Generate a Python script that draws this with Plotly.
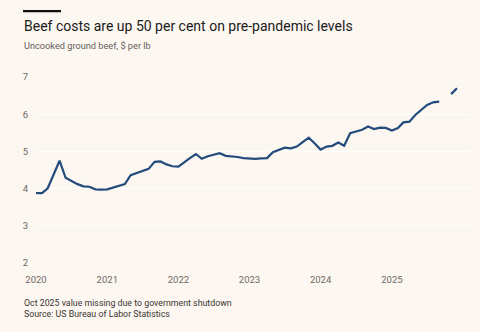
import plotly.graph_objects as go
import pandas as pd

# ---- data ----
months = pd.date_range("2020-01-01", "2025-12-01", freq="MS")
price_2020 = [3.88, 3.88, 4.01, 4.40, 4.75, 4.29, 4.21, 4.12, 4.06, 4.05, 3.98, 3.97]
price_2021 = [3.98, 4.03, 4.08, 4.12, 4.36, 4.42, 4.48, 4.53, 4.72, 4.73, 4.65, 4.60]
price_2022 = [4.59, 4.72, 4.82, 4.93, 4.80, 4.87, 4.90, 4.95, 4.88, 4.87, 4.85, 4.82]
price_2023 = [4.80, 4.80, 4.81, 4.82, 4.98, 5.05, 5.10, 5.08, 5.13, 5.25, 5.37, 5.22]
price_2024 = [5.05, 5.13, 5.15, 5.24, 5.15, 5.49, 5.54, 5.58, 5.67, 5.60, 5.64, 5.63]
price_2025 = [5.56, 5.63, 5.78, 5.80, 5.98, 6.12, 6.25, 6.32, 6.34, None, 6.54, 6.70]
prices = price_2020 + price_2021 + price_2022 + price_2023 + price_2024 + price_2025

y_ticks = [2, 3, 4, 5, 6, 7]
x_ticks = ["2020-01-01", "2021-01-01", "2022-01-01", "2023-01-01", "2024-01-01", "2025-01-01"]
x_tick_text = ["2020", "2021", "2022", "2023", "2024", "2025"]

title = "Beef costs are up 50 per cent on pre-pandemic levels"
subtitle = "Uncooked ground beef, $ per lb"
note = "Oct 2025 value missing due to government shutdown"
source = "Source: US Bureau of Labor Statistics"

# ---- layout geometry (pixels) ----
W, H = 480, 332
L, R, T, B = 36, 10, 77, 69
PW, PH = W - L - R, H - T - B

def px_x(px):
    return (px - L) / PW

def px_y(py):
    return (H - B - py) / PH

BG = "#fdf7f1"
FONT = "Roboto"

fig = go.Figure()
fig.add_trace(go.Scatter(
    x=months, y=prices, mode="lines",
    line=dict(color="#234b7c", width=2.2),
    connectgaps=False, hoverinfo="skip", showlegend=False,
))

fig.update_layout(
    width=W, height=H,
    margin=dict(l=L, r=R, t=T, b=B, pad=0),
    paper_bgcolor=BG, plot_bgcolor=BG,
    font=dict(family=FONT, color="#6e6864", size=10),
    xaxis=dict(
        range=["2020-01-01", "2026-02-06"],
        tickvals=x_ticks, ticktext=x_tick_text,
        showgrid=False, zeroline=False, showline=False,
        ticks="outside", ticklen=8, tickcolor="rgba(0,0,0,0)",
        tickfont=dict(size=9.5, color="#6e6864"),
    ),
    yaxis=dict(
        range=[2, 7], tickvals=y_ticks,
        showgrid=True, gridcolor="#ffffff", gridwidth=1,
        zeroline=False, showline=False,
        ticks="outside", ticklen=5, tickcolor="rgba(0,0,0,0)",
        tickfont=dict(size=9.5, color="#6e6864"),
    ),
)

fig.add_shape(type="rect", xref="paper", yref="paper",
              x0=px_x(23), x1=px_x(61), y0=px_y(12.3), y1=px_y(10),
              fillcolor="#111111", line=dict(width=0))

def text(s, px, py, size, color):
    fig.add_annotation(x=px_x(px), y=px_y(py), xref="paper", yref="paper",
                       text=s, showarrow=False, xanchor="left", yanchor="middle",
                       font=dict(family=FONT, size=size, color=color))

text(title, 22, 25.5, 14, "#1a1a1a")
text(subtitle, 22, 45.5, 9.2, "#66605c")
text(note, 22, 303, 8.8, "#3a3633")
text(source, 22, 314, 8.8, "#3a3633")

fig.write_html("out.html")
